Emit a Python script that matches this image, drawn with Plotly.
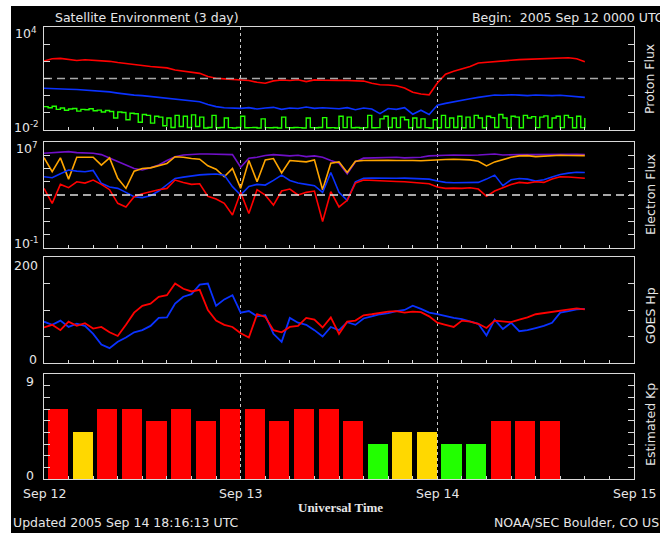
import plotly.graph_objects as go

W, H = 660, 533

# ---------------- data ----------------
hours = list(range(67))            # hours since 2005 Sep 12 00 UT (hourly samples)
hours_half = [i * 0.5 for i in range(133)]  # half-hourly samples

# Proton flux, log10 values
proton_p1_log = [2.02, 2.15, 2.17, 2.10, 2.05, 2.09, 2.07, 2.06, 2.00, 1.93,
                 1.86, 1.80, 1.76, 1.70, 1.66, 1.62, 1.50, 1.43, 1.40, 1.30,
                 1.12, 1.01, 0.98, 0.95, 0.91, 0.88, 0.78, 0.72, 0.86, 0.91,
                 0.88, 0.93, 0.82, 0.92, 0.90, 0.91, 0.89, 0.88, 0.86, 0.85,
                 0.72, 0.64, 0.62, 0.58, 0.45, 0.20, 0.10, 0.05, 0.74, 1.25,
                 1.42, 1.55, 1.70, 1.90, 1.93, 1.98, 2.02, 2.06, 2.10, 2.12,
                 2.15, 2.17, 2.20, 2.19, 2.21, 2.15, 1.98]
proton_p10_log = [0.43, 0.40, 0.41, 0.37, 0.36, 0.33, 0.30, 0.28, 0.22, 0.15,
                  0.08, 0.03, 0.00, -0.05, -0.12, -0.15, -0.18, -0.24, -0.30, -0.35,
                  -0.52, -0.64, -0.70, -0.72, -0.74, -0.70, -0.78, -0.72, -0.68, -0.80,
                  -0.72, -0.75, -0.66, -0.74, -0.70, -0.73, -0.76, -0.70, -0.82, -0.72,
                  -0.78, -1.05, -0.75, -0.80, -0.70, -1.08, -0.85, -1.10, -0.56, -0.45,
                  -0.35, -0.25, -0.18, -0.10, -0.05, 0.04, 0.02, 0.05, 0.03, 0.00,
                  0.04, 0.01, 0.00, 0.02, -0.02, -0.08, -0.10]
proton_p100_log = [-0.64, -0.70, -0.62, -0.80, -0.72, -0.85, -0.78, -0.75, -0.90, -0.80, -0.82, -0.76,
                   -0.88, -0.84, -0.95, -0.86, -0.92, -1.30, -0.95, -0.98, -1.40, -1.02, -1.05, -1.55,
                   -1.10, -1.15, -1.60, -1.20, -1.25, -1.75, -1.30, -1.85, -1.15, -1.80, -1.20, -1.85,
                   -1.12, -1.80, -1.25, -1.88, -1.85, -1.15, -1.87, -1.85, -1.30, -1.86, -1.88, -1.85,
                   -1.20, -1.87, -1.86, -1.85, -1.88, -1.35, -1.86, -1.87, -1.85, -1.88, -1.25, -1.86,
                   -1.87, -1.85, -1.86, -1.88, -1.30, -1.86, -1.87, -1.85, -1.28, -1.87, -1.86, -1.88,
                   -1.20, -1.86, -1.25, -1.87, -1.85, -1.88, -1.86, -1.15, -1.87, -1.86, -1.35, -1.20,
                   -1.85, -1.30, -1.86, -1.25, -1.40, -1.87, -1.30, -1.85, -1.35, -1.86, -1.88, -1.40,
                   -1.87, -1.15, -1.86, -1.30, -1.85, -1.20, -1.87, -1.25, -1.86, -1.15, -1.30, -1.87,
                   -1.20, -1.28, -1.85, -1.10, -1.30, -1.86, -1.20, -1.25, -1.87, -1.15, -1.30, -1.22,
                   -1.86, -1.25, -1.18, -1.87, -1.30, -1.20, -1.86, -1.15, -1.28, -1.87, -1.20, -1.86,
                   -1.30]
proton_threshold = 10.0

# Electron flux, log10 values
electron_purple_log = [6.15, 6.18, 6.22, 6.27, 6.20, 6.18, 6.15, 6.05, 5.77, 5.55,
                       5.26, 5.00, 4.89, 5.05, 5.26, 5.60, 5.89, 6.02, 6.08, 6.10,
                       6.10, 6.08, 6.06, 6.05, 5.10, 5.77, 5.85, 5.98, 6.05, 6.00,
                       5.95, 6.00, 5.90, 5.95, 5.85, 5.60, 5.40, 4.60, 5.50, 5.78,
                       5.80, 5.82, 5.80, 5.85, 5.80, 5.82, 5.85, 5.95, 6.00, 6.00,
                       6.02, 6.00, 6.00, 6.02, 6.05, 6.10, 6.02, 6.05, 6.06, 6.05,
                       6.06, 6.05, 6.06, 6.07, 6.06, 6.07, 6.06]
electron_orange_log = [5.82, 4.76, 5.80, 4.20, 5.85, 5.85, 5.85, 5.26, 5.80, 4.26,
                       3.50, 4.80, 5.00, 5.05, 5.20, 5.38, 5.89, 5.85, 5.75, 5.70,
                       5.20, 4.95, 4.38, 5.00, 3.50, 5.60, 4.00, 5.65, 5.75, 4.66,
                       5.60, 5.55, 5.50, 5.65, 3.40, 5.40, 5.50, 4.70, 5.55, 5.60,
                       5.62, 5.60, 5.62, 5.60, 5.62, 5.60, 5.58, 5.62, 5.68, 5.68,
                       5.70, 5.68, 5.65, 5.55, 5.20, 5.50, 5.68, 5.85, 5.95, 5.97,
                       5.90, 5.95, 5.97, 6.00, 5.98, 5.99, 5.97]
electron_blue_log = [4.38, 4.30, 4.60, 4.89, 4.80, 4.75, 4.85, 3.88, 3.60, 3.50,
                     3.20, 2.87, 2.80, 2.95, 3.30, 3.80, 4.25, 4.35, 4.45, 4.52,
                     4.56, 4.58, 4.50, 3.63, 3.00, 3.65, 3.80, 3.75, 4.10, 4.50,
                     4.10, 3.90, 3.80, 3.70, 3.20, 4.70, 3.20, 2.60, 4.00, 4.26,
                     4.28, 4.26, 4.28, 4.26, 4.27, 4.25, 4.26, 4.20, 4.05, 3.95,
                     3.92, 3.92, 3.90, 3.95, 4.20, 4.50, 3.70, 4.15, 4.25, 4.20,
                     4.05, 4.15, 4.35, 4.55, 4.65, 4.72, 4.70]
electron_red_log = [3.50, 2.37, 3.80, 3.55, 4.00, 3.90, 4.13, 3.80, 3.40, 2.37,
                    2.10, 2.87, 3.10, 3.26, 3.40, 3.50, 4.13, 3.95, 3.80, 3.85,
                    2.90, 2.70, 2.37, 1.49, 3.20, 1.60, 3.40, 3.00, 2.24, 3.30,
                    3.45, 3.00, 3.20, 3.30, 1.00, 3.25, 2.10, 2.60, 3.90, 4.13,
                    4.10, 4.05, 4.00, 4.02, 4.00, 3.95, 3.90, 3.85, 3.60, 3.50,
                    3.52, 3.50, 3.55, 3.45, 2.90, 3.30, 3.55, 3.80, 3.95, 3.90,
                    4.00, 3.95, 4.20, 4.38, 4.36, 4.30, 4.26]
electron_threshold = 1000.0

# GOES Hp (nT)
hp_red = [67, 72, 62, 78, 70, 75, 65, 68, 58, 51,
          72, 95, 108, 112, 125, 128, 150, 140, 135, 138,
          100, 80, 72, 68, 56, 48, 92, 87, 62, 58,
          68, 70, 85, 82, 67, 86, 55, 78, 80, 90,
          92, 95, 97, 98, 95, 97, 96, 88, 76, 72,
          68, 80, 78, 74, 66, 80, 78, 77, 82, 86,
          92, 94, 96, 98, 101, 103, 101]
hp_blue = [78, 72, 80, 68, 74, 70, 55, 35, 28, 40,
           48, 58, 62, 70, 85, 86, 112, 125, 130, 148,
           150, 108, 120, 128, 95, 98, 88, 90, 55, 40,
           85, 76, 72, 62, 50, 68, 62, 77, 72, 84,
           88, 92, 94, 98, 100, 108, 102, 95, 92, 88,
           85, 83, 78, 74, 52, 82, 64, 76, 60, 62,
           66, 70, 76, 95, 98, 101, 102]

# Estimated Kp (3-hour intervals)
kp_hours = list(range(0, 63, 3))
kp_values = [6, 4, 6, 6, 5, 6, 5, 6, 6, 5, 6, 6, 5, 3, 4, 4, 3, 3, 5, 5, 5]

# tick labels
day_ticks = [0, 24, 48, 72]
day_labels = ["Sep 12", "Sep 13", "Sep 14", "Sep 15"]

# ---------------- styling ----------------
FRAME = "#d8d8d8"
TXT = "#e6e6e6"
FONT = "DejaVu Sans"
RED = "#ff0000"
BLUE = "#0a32ff"
GREEN = "#22ff00"
ORANGE = "#ffa500"
PURPLE = "#7010c8"


def px(x):
    return x / W


def py(y):
    return 1 - y / H


panels = [(27, 130), (142, 248), (257, 363), (374, 479)]
X_DOM = [px(44), px(634)]

fig = go.Figure()


def pw(v):
    return [10 ** a for a in v]


def line(x, y, color, ax, width=1.6, shape="linear"):
    fig.add_trace(go.Scatter(x=x, y=y, mode="lines", xaxis="x" + ax, yaxis="y" + ax,
                             line=dict(color=color, width=width, shape=shape),
                             hoverinfo="skip", showlegend=False))


# panel 1: protons
line(hours_half, pw(proton_p100_log), GREEN, "", 1.4, "hv")
line(hours, pw(proton_p10_log), BLUE, "")
line(hours, pw(proton_p1_log), RED, "")
fig.add_trace(go.Scatter(x=[0, 72], y=[proton_threshold] * 2, mode="lines",
                         line=dict(color="#a8a8a8", width=1.6, dash="8px,5px"),
                         hoverinfo="skip", showlegend=False))

# panel 2: electrons
line(hours, pw(electron_purple_log), PURPLE, "2")
line(hours, pw(electron_orange_log), ORANGE, "2")
line(hours, pw(electron_blue_log), BLUE, "2")
line(hours, pw(electron_red_log), RED, "2")
fig.add_trace(go.Scatter(x=[0, 72], y=[electron_threshold] * 2, mode="lines", xaxis="x2",
                         yaxis="y2", line=dict(color="#e0e0e0", width=1.4, dash="8px,5px"),
                         hoverinfo="skip", showlegend=False))

# panel 3: Hp
line(hours, hp_blue, BLUE, "3", 1.8)
line(hours, hp_red, RED, "3", 1.8)

# panel 4: Kp
kp_colors = [RED if v >= 5 else ("#ffd800" if v == 4 else GREEN) for v in kp_values]
fig.add_trace(go.Bar(x=kp_hours, y=kp_values, xaxis="x4", yaxis="y4", width=2.45, offset=0.5,
                     marker=dict(color=kp_colors, line=dict(width=0)), hoverinfo="skip",
                     showlegend=False))

layout = dict(width=W, height=H, margin=dict(l=0, r=0, t=0, b=0, pad=0, autoexpand=False),
              paper_bgcolor="black", plot_bgcolor="black", showlegend=False,
              bargap=0)

y_specs = [
    dict(type="log", range=[-2, 4], dtick=1),
    dict(type="log", range=[-1, 7], dtick=1),
    dict(type="linear", range=[0, 200], dtick=50, tick0=0),
    dict(type="linear", range=[0, 9], dtick=1, tick0=0),
]
for i, ((top, bot), ys) in enumerate(zip(panels, y_specs), start=1):
    s = "" if i == 1 else str(i)
    layout["xaxis" + s] = dict(
        domain=X_DOM, range=[0, 72], anchor="y" + s, showline=True, mirror=True,
        linecolor=FRAME, linewidth=1, ticks="inside", ticklen=3, tickcolor=FRAME,
        tickmode="array", tickvals=day_ticks, showticklabels=False, automargin=False,
        showgrid=True, gridcolor="#c8c8c8", griddash="dot", gridwidth=1, zeroline=False,
        minor=dict(ticks="inside", tickmode="array", tickvals=list(range(0, 73, 3)),
                   ticklen=3, tickcolor=FRAME, showgrid=False),
        fixedrange=True)
    layout["yaxis" + s] = dict(
        domain=[py(bot), py(top)], anchor="x" + s, showline=True, mirror="ticks",
        linecolor=FRAME, linewidth=1, ticks="inside", ticklen=6, tickcolor=FRAME,
        showticklabels=False, showgrid=False, zeroline=False, fixedrange=True,
        automargin=False, **ys)

fig.update_layout(**layout)

# white border of the original image
fig.add_shape(type="rect", xref="paper", yref="paper", x0=0, x1=px(11), y0=0, y1=1,
              fillcolor="white", line=dict(width=0), layer="above")
fig.add_shape(type="rect", xref="paper", yref="paper", x0=0, x1=1, y0=py(6), y1=1,
              fillcolor="white", line=dict(width=0), layer="above")


def ann(text, x, y, xanchor="center", size=12.5, angle=0, family=FONT, color=TXT,
        xref="paper"):
    fig.add_annotation(text=text, x=(x if xref != "paper" else px(x)), y=py(y), xref=xref,
                       yref="paper", xanchor=xanchor, yanchor="middle", showarrow=False,
                       textangle=angle, font=dict(family=family, size=size, color=color))


ann("Satellite Environment (3 day)", 53, 17, "left")
ann("Begin:\u00a0\u00a02005 Sep 12 0000 UTC", 470, 17, "left")

ann("10<sup>4</sup>", 39, 33, "right")
ann("10<sup>-2</sup>", 41, 127, "right")
ann("10<sup>7</sup>", 39, 148, "right")
ann("10<sup>-1</sup>", 41, 243, "right")
ann("200", 40, 265, "right")
ann("0", 39, 359, "right")
ann("9", 36, 381, "right")
ann("0", 36, 475, "right")

ann("Proton Flux", 650, 79, angle=-90)
ann("Electron Flux", 650, 195, angle=-90)
ann("GOES Hp", 650, 316, angle=-90)
ann("Estimated Kp", 650, 425, angle=-90)

for t, lab in zip(day_ticks, day_labels):
    ann(lab, t, 493, xref="x4")

ann("<b>Universal Time</b>", 340, 507, size=13, family="Liberation Serif")
ann("Updated 2005 Sep 14 18:16:13 UTC", 11, 522, "left")
ann("NOAA/SEC Boulder, CO US", 661, 522, "right")

fig.write_html("out.html", config={"displayModeBar": False},
               post_script="document.body.style.margin='0';document.body.style.padding='0';")
